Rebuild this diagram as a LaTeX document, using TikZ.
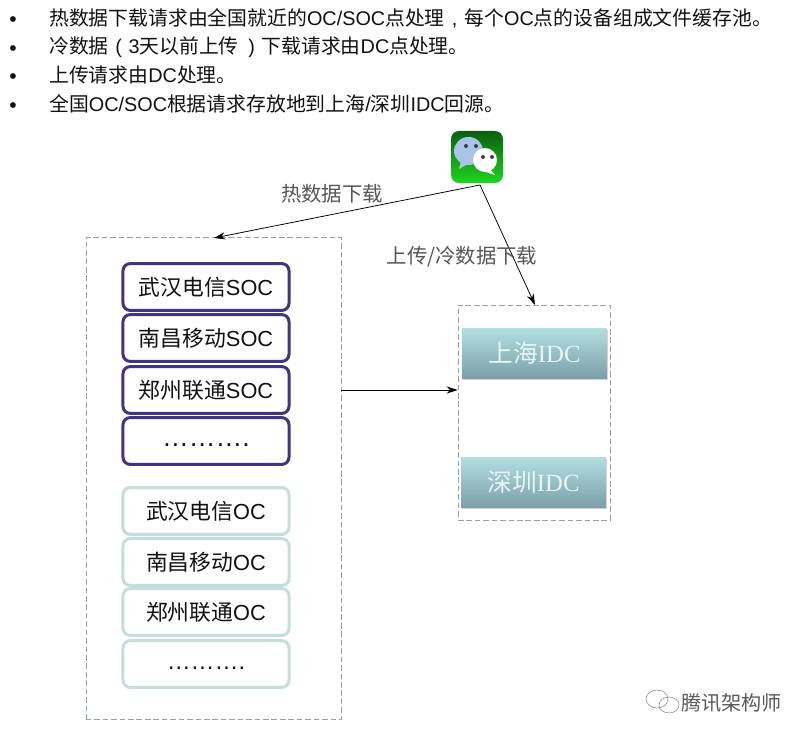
\documentclass[tikz,border=0pt]{standalone}
\usepackage{fontspec}
\usepackage{xcolor}
\usepackage{tikz}
\usetikzlibrary{arrows.meta,shadows}
\setmainfont{Noto Sans CJK SC}
\newfontfamily\LatinFace{Liberation Sans}
\newfontfamily\IdcLatin{Liberation Serif}
\definecolor{FigureInk}{HTML}{111111}
\definecolor{LabelGray}{HTML}{555555}
\definecolor{FrameGray}{HTML}{8FA3A3}
\definecolor{SocEdge}{HTML}{3F3580}
\definecolor{OcEdge}{HTML}{C4DEDB}
\definecolor{IdcTop}{HTML}{B2DFE2}
\definecolor{IdcBottom}{HTML}{7C9FA9}
\definecolor{IdcText}{HTML}{E4F6F6}
\definecolor{IconTop}{HTML}{0C5E0E}
\definecolor{IconBottom}{HTML}{1FD41F}
\definecolor{BubbleBlue}{HTML}{A9C4E6}
\tikzset{
  figure/.style={font=\fontsize{14.1pt}{17pt}\selectfont,text=FigureInk,x=0.025cm,y=-0.025cm,>={Stealth[length=2.8mm,width=1.8mm]}},
  bulletmark/.style={inner sep=0pt,font=\LatinFace\fontsize{15pt}{17pt}\selectfont},
  bullettext/.style={anchor=west,inner sep=0pt},
  zone/.style={draw=FrameGray,dash pattern=on 4pt off 2pt,line width=0.5pt,minimum width=#1,inner sep=0pt},
  socbox/.style={draw=SocEdge,line width=0.75mm,rounded corners=1.8mm,fill=white,minimum width=4.15cm,minimum height=1.17cm,
    inner sep=0pt,font=\fontsize{15.5pt}{18pt}\selectfont},
  ocbox/.style={socbox,draw=OcEdge},
  idcbox/.style={top color=IdcTop,bottom color=IdcBottom,text=IdcText,minimum width=3.62cm,minimum height=1.25cm,inner sep=0pt,
    font=\fontsize{17.6pt}{19pt}\selectfont,drop shadow={shadow xshift=0.2mm,shadow yshift=-0.4mm,opacity=0.35}},
  flowlabel/.style={text=LabelGray,inner sep=0pt,font=\fontsize{14.5pt}{17pt}\selectfont},
  flow/.style={->,line width=0.55pt,draw=black},
}
\newcommand{\Lat}[1]{{\LatinFace #1}}
\newcommand{\Wide}[1]{\makebox[1em]{\LatinFace #1}}
\newcommand{\DotRow}[2]{\raisebox{#2}{\fontsize{#1}{20pt}\LatinFace\selectfont\strut ……….}}
\newcommand{\IdcName}[1]{\raisebox{-2.5pt}{#1{\IdcLatin IDC}}}
\begin{document}
\begin{tikzpicture}[figure]
  \useasboundingbox (0,0) rectangle (807,737);

  \node[bulletmark] (markA) at (13,22) {•};
  \node[bulletmark] (markB) at (13,51) {•};
  \node[bulletmark] (markC) at (13,79) {•};
  \node[bulletmark] (markD) at (13,108) {•};
  \node[bullettext] (lineA) at (49,18) {热数据下载请求由全国就近的\Lat{OC/SOC}点处理\Wide{,}每个\Lat{OC}点的设备组成文件缓存池。};
  \node[bullettext] (lineB) at (49,47) {冷数据\Wide{(}\Lat{3}天以前上传\hspace{0.15em}\Wide{)}下载请求由\Lat{DC}点处理。};
  \node[bullettext] (lineC) at (49,75) {上传请求由\Lat{DC}处理。};
  \node[bullettext] (lineD) at (49,104) {全国\Lat{OC/SOC}根据请求存放地到上海\Lat{/}深圳\Lat{IDC}回源。};

  \node[zone=6.38cm,minimum height=12.03cm] (edgeZone) at (213.5,478.5) {};
  \node[zone=3.8cm,minimum height=5.38cm] (idcZone) at (534,412.5) {};

  \node[socbox] (socA) at (206,287) {武汉电信\Lat{SOC}};
  \node[socbox] (socB) at (206,338) {南昌移动\Lat{SOC}};
  \node[socbox] (socC) at (206,390) {郑州联通\Lat{SOC}};
  \node[socbox] (socD) at (206,441) {\DotRow{19pt}{-1pt}};
  \node[ocbox] (ocA) at (206,511) {武汉电信\Lat{OC}};
  \node[ocbox] (ocB) at (206,562) {南昌移动\Lat{OC}};
  \node[ocbox] (ocC) at (206,612) {郑州联通\Lat{OC}};
  \node[ocbox] (ocD) at (206,664) {\DotRow{17pt}{0pt}};

  \node[idcbox] (idcA) at (534.5,353) {\IdcName{上海}};
  \node[idcbox] (idcB) at (533.5,482) {\IdcName{深圳}};

  \node[top color=IconTop,bottom color=IconBottom,rounded corners=2mm,minimum width=1.3cm,minimum height=1.3cm,inner sep=0pt] (wechat) at (477,157) {};
  \fill[BubbleBlue] (468.5,151) ellipse (14.5 and 14);
  \fill[BubbleBlue] (461,161) -- (459,169) -- (468,164) -- cycle;
  \fill[white] (485,160) ellipse (12 and 12);
  \fill[white] (490,169) -- (495,175) -- (483,171) -- cycle;
  \foreach \ex/\ey in {466/146,476/146,483/157,492/157} \fill[black!75] (\ex,\ey) circle (2);

  \coordinate (fork) at (480,185);
  \coordinate (hotEnd) at (214,238);
  \coordinate (coldEnd) at (535,305);
  \draw[flow] (fork) -- (hotEnd);
  \draw[flow] (fork) -- (coldEnd);
  \draw[flow] (edgeZone.east |- socC) -- (idcZone.west |- socC);

  \node[flowlabel] (hotLabel) at (332,194) {热数据下载};
  \node[flowlabel] (coldLabel) at (462,257) {上传/冷数据下载};

  \draw[black!45,line width=0.4pt] (657,699) circle (11 and 9) (669,705) circle (10 and 8);
  \node[anchor=west,inner sep=0pt,text=black!65,font=\fontsize{14.3pt}{17pt}\selectfont] (mark) at (681,703) {腾讯架构师};
\end{tikzpicture}
\end{document}
